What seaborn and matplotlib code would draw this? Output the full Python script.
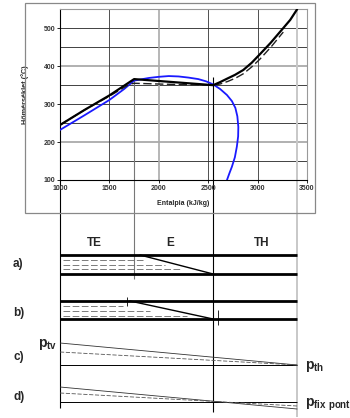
import numpy as np
import pandas as pd
import matplotlib
matplotlib.use('Agg')
import matplotlib.pyplot as plt
import matplotlib.patches as mpatches
import seaborn as sns

# --- top chart data (enthalpy kJ/kg, temperature C) ---
solid_h = [1000, 1250, 1500, 1750, 2150, 2550, 2620, 2690, 2770, 2855, 2940, 3025, 3130, 3245, 3330, 3400]
solid_t = [245, 285, 323, 366, 358, 350, 358, 367, 377, 390, 409, 432, 461, 496, 522, 550]
dashed_h = [1000, 1250, 1500, 1700, 1750, 2000, 2300, 2550, 2620, 2700, 2780, 2855, 2940, 3025, 3140, 3260]
dashed_t = [245, 285, 321, 352, 355, 353, 351, 350, 353, 360, 369, 380, 398, 419, 452, 490]
blue_h = [1000, 1250, 1500, 1650, 1750, 1900, 2000, 2100, 2200, 2300, 2400, 2480, 2550, 2620,
          2690, 2740, 2775, 2795, 2805, 2803, 2790, 2770, 2740, 2715, 2690]
blue_t = [232, 271, 311, 340, 362, 369, 372, 374, 373, 370, 366, 360, 352, 340,
          324, 308, 290, 268, 240, 215, 188, 160, 135, 118, 100]

x_ticks = [1000, 1500, 2000, 2500, 3000, 3500]
y_ticks = [100, 200, 300, 400, 500]
zone_bounds = [1000, 1750, 2550, 3400]
zone_names = ['TE', 'E', 'TH']
zone_label_h = [1350, 2110, 3045]

# --- schematic rows (lower diagram, schematic depth units) ---
row_a = [255, 274]
diag_a_h, diag_a_y = [1810, 2550], [255, 274]
dash_a_y = [260, 265, 269]
dash_a_end = [1840, 2063, 2215]

row_b = [301, 319]
diag_b_h, diag_b_y = [1708, 2550], [301, 319]
dash_b_y = [306, 311, 316]
dash_b_end = [1640, 1910, 2285]
tick_b_h = [1678, 2600]
tick_b_y = [(297, 306), (310, 325)]

c_base = 365
c_solid = [343, 365]
c_dash = [352, 365]
d_base = 402
d_solid = [387, 409]
d_dash = [393, 406]
vline_bottom = [408, 279, 412, 417]

sns.set_theme(style='white')
plt.rcParams['font.family'] = ['Liberation Sans', 'DejaVu Sans']
plt.rcParams['mathtext.fontset'] = 'custom'
plt.rcParams['mathtext.bf'] = 'Liberation Sans:bold'
plt.rcParams['mathtext.rm'] = 'Liberation Sans'

W, H = 350, 418
fig = plt.figure(figsize=(3.5, 4.18), dpi=100)

# outer box of the chart
fig.patches.append(mpatches.Rectangle((25 / W, 1 - 213 / H), 290 / W, 210 / H,
                                      transform=fig.transFigure, fill=False,
                                      ec='#888888', lw=0.9, zorder=0))

# lower schematic axes, same enthalpy scale as the chart
ax_s = fig.add_axes([60 / W, 0, 247 / W, 238 / H])
ax_s.set_xlim(1000, 3500)
ax_s.set_ylim(418, 180)
ax_s.axis('off')
ax_s.patch.set_alpha(0)

vcolors = ['black', '#777777', 'black', '#c8c8c8']
vwidths = [0.8, 0.8, 0.8, 1.4]
for h, yb, c, w in zip(zone_bounds, vline_bottom, vcolors, vwidths):
    ax_s.vlines(h, 180, yb, color=c, lw=w, clip_on=False)

for name, h in zip(zone_names, zone_label_h):
    ax_s.text(h, 243, name, ha='center', va='center', fontsize=8.5, fontweight='bold')

# a)
for y in row_a:
    ax_s.hlines(y, 1000, 3400, color='black', lw=2.0)
ax_s.plot(diag_a_h, diag_a_y, color='black', lw=1.0)
for y, e in zip(dash_a_y, dash_a_end):
    ax_s.hlines(y, 1030, e, color='#666666', lw=0.6, linestyles=(0, (8, 3)))
# b)
for y in row_b:
    ax_s.hlines(y, 1000, 3400, color='black', lw=2.0)
ax_s.plot(diag_b_h, diag_b_y, color='black', lw=1.0)
for y, e in zip(dash_b_y, dash_b_end):
    ax_s.hlines(y, 1030, e, color='#666666', lw=0.6, linestyles=(0, (8, 3)))
for h, (y0, y1) in zip(tick_b_h, tick_b_y):
    ax_s.vlines(h, y0, y1, color='black', lw=0.6)
# c)
ax_s.hlines(c_base, 1000, 3400, color='black', lw=0.7)
ax_s.plot([1000, 3400], c_solid, color='#333333', lw=0.6)
ax_s.plot([1000, 3400], c_dash, color='#555555', lw=0.6, ls=(0, (5, 2)))
# d)
ax_s.hlines(d_base, 1000, 3400, color='black', lw=0.7)
ax_s.plot([1000, 3400], d_solid, color='#333333', lw=0.6)
ax_s.plot([1000, 3400], d_dash, color='#555555', lw=0.6, ls=(0, (5, 2)))

for lab, yp in zip(['a)', 'b)', 'c)', 'd)'], [264, 313, 357, 397]):
    fig.text(13 / W, 1 - yp / H, lab, ha='left', va='center', fontsize=8.5, fontweight='bold')
fig.text(38 / W, 1 - 345 / H, r'$\mathbf{p}_{\mathbf{tv}}$', ha='left', va='center', fontsize=10)
fig.text(305 / W, 1 - 367 / H, r'$\mathbf{p}_{\mathbf{th}}$', ha='left', va='center', fontsize=10)
fig.text(305 / W, 1 - 405 / H, r'$\mathbf{p}_{\mathbf{fix\ pont}}$', ha='left', va='center', fontsize=10)

# top chart
ax = fig.add_axes([60 / W, 1 - 180 / H, 247 / W, 170.7 / H])
ax.patch.set_alpha(0)
ax.set_xlim(1000, 3500)
ax.set_ylim(100, 550)

for t in range(150, 551, 50):
    if t in (200, 400):
        ax.axhline(t, color='#aaaaaa', lw=1.3, zorder=1)
    else:
        ax.axhline(t, color='#222222', lw=0.6, zorder=1)
for h in [1500, 2000, 2500, 3000]:
    if h == 2000:
        ax.axvline(h, color='#aaaaaa', lw=1.2, zorder=1)
    else:
        ax.axvline(h, color='#333333', lw=0.6, zorder=1)
ax.vlines(1750, 100, 366, color='#777777', lw=0.8, zorder=1)
ax.vlines(2550, 100, 372, color='black', lw=0.8, zorder=1)
ax.vlines(3400, 100, 550, color='#c8c8c8', lw=1.4, zorder=1)

blue_df = pd.DataFrame({'h': blue_h, 't': blue_t})
sns.lineplot(data=blue_df, x='h', y='t', sort=False, estimator=None, ax=ax,
             color='#1a1aff', lw=1.3, zorder=3)
dash_df = pd.DataFrame({'h': dashed_h, 't': dashed_t})
sns.lineplot(data=dash_df, x='h', y='t', sort=False, estimator=None, ax=ax,
             color='#222222', lw=1.0, ls=(0, (6, 2.5)), zorder=4)
solid_df = pd.DataFrame({'h': solid_h, 't': solid_t})
sns.lineplot(data=solid_df, x='h', y='t', sort=False, estimator=None, ax=ax,
             color='black', lw=1.6, zorder=5)

ax.set_xticks(x_ticks)
ax.set_yticks(y_ticks)
ax.set_xticklabels([str(v) for v in x_ticks], fontsize=5, fontweight='bold', color='#333333')
ax.set_yticklabels([str(v) for v in y_ticks], fontsize=5, fontweight='bold', color='#333333')
ax.tick_params(axis='both', length=2, width=0.6, pad=1.5, color='black', bottom=True, left=True)
ax.set_xlabel('Entalpia (kJ/kg)', fontsize=5, fontweight='bold', labelpad=6)
ax.set_ylabel('Hőmérséklet (°C)', fontsize=5.2, fontweight='bold', labelpad=10)
for s in ['left', 'bottom']:
    ax.spines[s].set_color('black')
    ax.spines[s].set_linewidth(0.8)
for s in ['top', 'right']:
    ax.spines[s].set_color('#999999')
    ax.spines[s].set_linewidth(0.8)
if ax.get_legend():
    ax.get_legend().remove()

fig.savefig('out.png', dpi=100)
